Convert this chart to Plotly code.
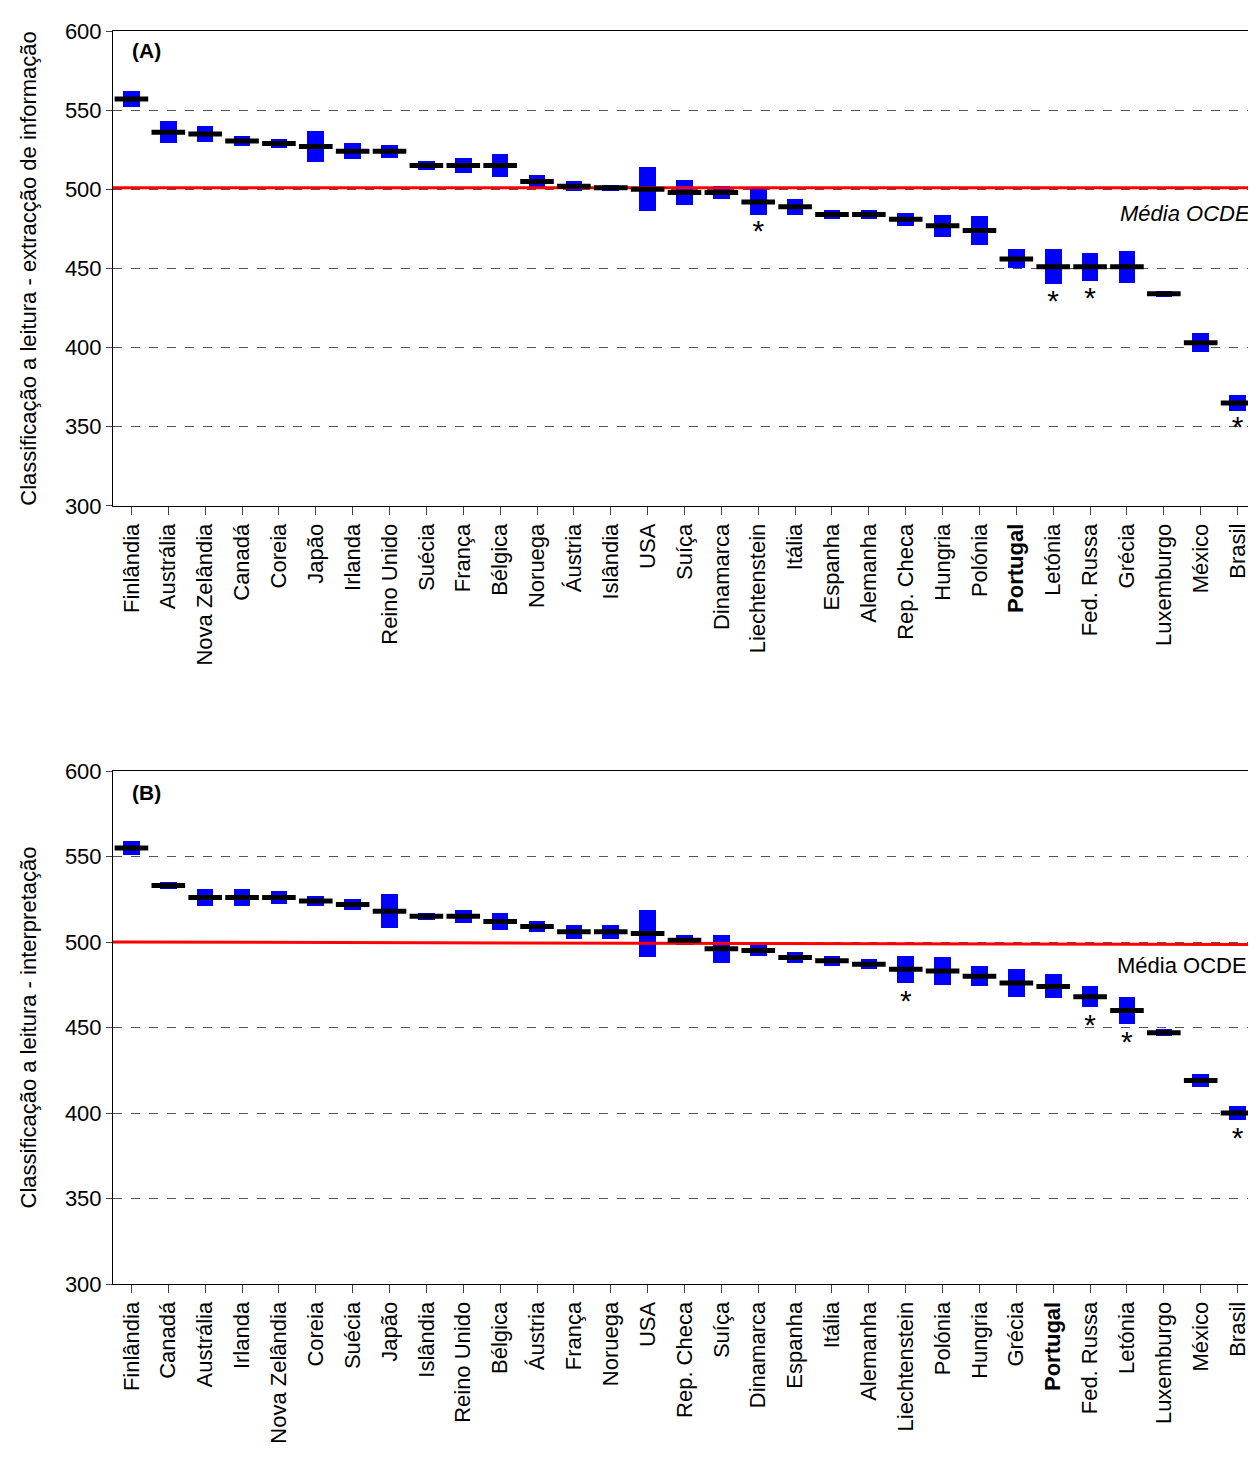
import plotly.graph_objects as go

# Panel A - extracção de informação
paises_a = ["Finlândia", "Austrália", "Nova Zelândia", "Canadá", "Coreia", "Japão", "Irlanda",
            "Reino Unido", "Suécia", "França", "Bélgica", "Noruega", "Áustria", "Islândia", "USA",
            "Suíça", "Dinamarca", "Liechtenstein", "Itália", "Espanha", "Alemanha", "Rep. Checa",
            "Hungria", "Polónia", "<b>Portugal</b>", "Letónia", "Fed. Russa", "Grécia", "Luxemburgo",
            "México", "Brasil"]
media_a = [557, 536, 535, 530.5, 529, 527, 524, 524, 515, 515, 515, 505, 502, 501, 500,
           498, 498, 492, 489, 484, 484, 481, 477, 474, 456, 451, 451, 451, 434, 403, 365]
erro_a = [5, 7, 5, 3, 3, 10, 5, 4, 3, 5, 7, 4, 3, 2, 14, 8, 4, 8, 5, 3, 3, 4, 7, 9, 6, 11, 9, 10, 2, 6, 5]
asterisco_a = ["Liechtenstein", "Letónia", "Fed. Russa", "Brasil"]

# Panel B - interpretação
paises_b = ["Finlândia", "Canadá", "Austrália", "Irlanda", "Nova Zelândia", "Coreia", "Suécia",
            "Japão", "Islândia", "Reino Unido", "Bélgica", "Áustria", "França", "Noruega", "USA",
            "Rep. Checa", "Suíça", "Dinamarca", "Espanha", "Itália", "Alemanha", "Liechtenstein",
            "Polónia", "Hungria", "Grécia", "<b>Portugal</b>", "Fed. Russa", "Letónia", "Luxemburgo",
            "México", "Brasil"]
media_b = [555, 533, 526, 526, 526, 524, 522, 518, 515, 515, 512, 509, 506, 506, 505,
           501, 496, 495, 491, 489, 487, 484, 483, 480, 476, 474, 468, 460, 447, 419, 400]
erro_b = [4, 2, 5, 5, 4, 3, 3, 10, 2, 4, 5, 3, 4, 4, 14, 3, 8, 3, 3, 3, 3, 8, 8, 6, 8, 7, 6, 8, 2, 4, 4]
asterisco_b = ["Liechtenstein", "Fed. Russa", "Letónia", "Brasil"]

ocde_a = [501, 501]
ocde_b = [500, 498.5]

FONT = "Arial, Liberation Sans, sans-serif"
fig = go.Figure()


def painel(paises, media, erro, asteriscos, ocde, xa, ya):
    n = len(paises)
    idx = list(range(n))
    fig.add_trace(go.Bar(x=idx, y=[2 * e for e in erro], base=[m - e for m, e in zip(media, erro)],
                         width=0.45, marker_color="#0000ff", marker_line_width=0,
                         xaxis=xa, yaxis=ya, showlegend=False))
    fig.add_trace(go.Scatter(x=[-0.5, n - 0.5], y=ocde, mode="lines",
                             line=dict(color="#ff0000", width=3), xaxis=xa, yaxis=ya, showlegend=False))
    fig.add_trace(go.Scatter(x=idx, y=media, mode="markers",
                             marker=dict(symbol="line-ew", size=24, line=dict(color="black", width=5)),
                             xaxis=xa, yaxis=ya, showlegend=False))
    ax = [i for i, p in enumerate(paises) if p in asteriscos]
    ay = [media[i] - erro[i] - 12 for i in ax]
    fig.add_trace(go.Scatter(x=ax, y=ay, mode="text", text=["*"] * len(ax),
                             textfont=dict(size=30, color="black", family=FONT),
                             xaxis=xa, yaxis=ya, showlegend=False))


painel(paises_a, media_a, erro_a, asterisco_a, ocde_a, "x", "y")
painel(paises_b, media_b, erro_b, asterisco_b, ocde_b, "x2", "y2")

eixo_x = dict(tickangle=-90, ticks="outside", ticklen=8, tickson="boundaries", showgrid=False,
              showline=True, linecolor="black", mirror=True, range=[-0.5, 30.5],
              tickfont=dict(size=22, color="black", family=FONT), tickmode="array")
eixo_y = dict(range=[300, 600], dtick=50, ticks="outside", ticklen=6, showline=True,
              linecolor="black", mirror=True, gridcolor="#555555", griddash="dash", gridwidth=1,
              tickfont=dict(size=22, color="black", family=FONT), zeroline=False)

fig.update_layout(
    width=1248, height=1450, plot_bgcolor="white", paper_bgcolor="white",
    margin=dict(l=105, r=0, t=23, b=174), bargap=0,
    font=dict(family=FONT, color="black"),
    xaxis=dict(eixo_x, anchor="y", tickvals=list(range(31)), ticktext=paises_a),
    yaxis=dict(eixo_y, domain=[0.621, 1], anchor="x",
               title=dict(text="Classificação a leitura - extracção de informação", font=dict(size=22), standoff=22)),
    xaxis2=dict(eixo_x, anchor="y2", tickvals=list(range(31)), ticktext=paises_b),
    yaxis2=dict(eixo_y, domain=[0, 0.4094], anchor="x2",
                title=dict(text="Classificação a leitura - interpretação", font=dict(size=22), standoff=22)),
    annotations=[
        dict(text="<b>(A)</b>", x=0.015, y=0.995, xref="paper", yref="paper", showarrow=False,
             xanchor="left", yanchor="top", font=dict(size=21)),
        dict(text="<b>(B)</b>", x=0.015, y=0.403, xref="paper", yref="paper", showarrow=False,
             xanchor="left", yanchor="top", font=dict(size=21)),
        dict(text="<i>Média OCDE</i>", x=30.4, y=494, xref="x", yref="y", showarrow=False,
             xanchor="right", yanchor="top", font=dict(size=22)),
        dict(text="Média OCDE", x=30.3, y=495, xref="x2", yref="y2", showarrow=False,
             xanchor="right", yanchor="top", font=dict(size=22)),
    ],
)

fig.write_html("out.html")
